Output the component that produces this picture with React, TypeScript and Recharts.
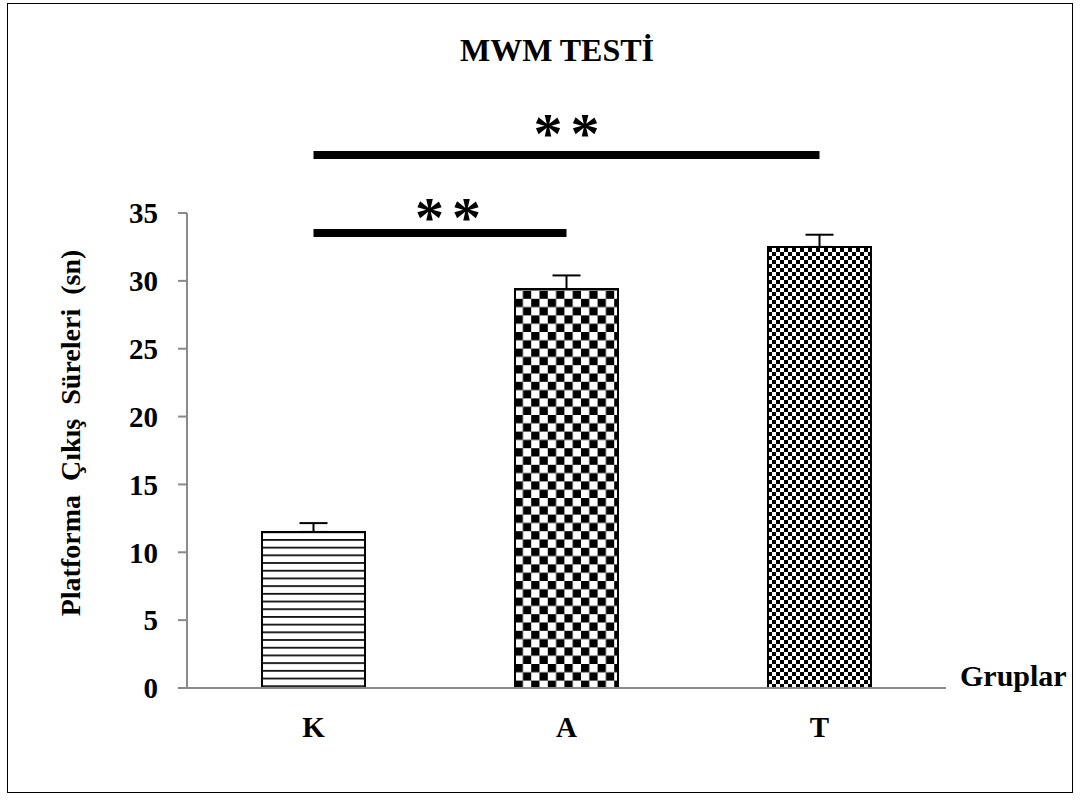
import React from "react";
import {
  BarChart,
  Bar,
  XAxis,
  YAxis,
  ErrorBar,
  ReferenceLine,
  Cell,
} from "recharts";

const groups = ["K", "A", "T"];
const means = [11.5, 29.4, 32.5];
const errors = [0.65, 1.0, 0.9];
const yTicks = [0, 5, 10, 15, 20, 25, 30, 35];
const fills = ["url(#hlines)", "url(#bigcheck)", "url(#smallcheck)"];
const sigLines = [
  { from: "K", to: "T", y: 39.27, text: "**", shift: 4, dy: 0 },
  { from: "K", to: "A", y: 33.53, text: "**", shift: 12, dy: 6 },
];

const serif = "'Liberation Serif', 'Times New Roman', serif";

const data = groups.map((g, i) => ({
  group: g,
  mean: means[i],
  err: [0, errors[i]],
}));

function Stars({ viewBox, text, shift, dy }: any) {
  if (!viewBox) return null;
  const cx = viewBox.x + (viewBox.width || 0) / 2 + shift;
  return (
    <text
      x={cx}
      y={viewBox.y - 2 + dy}
      textAnchor="middle"
      fontFamily={serif}
      fontWeight="bold"
      fontSize={58}
      letterSpacing={8}
      fill="#000"
    >
      {text}
    </text>
  );
}

function YLabel({ viewBox }: any) {
  if (!viewBox) return null;
  const cy = 433;
  return (
    <text
      x={70}
      y={cy}
      transform={`rotate(-90, 70, ${cy})`}
      textAnchor="middle"
      dominantBaseline="central"
      fontFamily={serif}
      fontWeight="bold"
      fontSize={28}
      fill="#000"
      style={{ whiteSpace: "pre" }}
    >
      Platforma  Çıkış  Süreleri  (sn)
    </text>
  );
}

export default function App() {
  return (
    <div style={{ position: "absolute", left: 0, top: 0, width: 1081, height: 800, background: "#fff" }}>
      <div
        style={{
          position: "absolute",
          left: 7,
          top: 3,
          width: 1066,
          height: 790,
          border: "1.5px solid #000",
          boxSizing: "border-box",
        }}
      />
      <div
        style={{
          position: "absolute",
          left: 457,
          width: 200,
          top: 33,
          textAlign: "center",
          fontFamily: serif,
          fontWeight: "bold",
          fontSize: 32,
          lineHeight: "34px",
          whiteSpace: "nowrap",
        }}
      >
        MWM TESTİ
      </div>
      <div
        style={{
          position: "absolute",
          left: 960,
          top: 659,
          fontFamily: serif,
          fontWeight: "bold",
          fontSize: 30,
          lineHeight: "34px",
        }}
      >
        Gruplar
      </div>
      <div style={{ position: "absolute", left: 0, top: 0 }}>
        <BarChart
          width={1081}
          height={800}
          data={data}
          margin={{ top: 213, right: 135, left: 127, bottom: 62 }}
          barCategoryGap={75}
        >
          <defs>
            <pattern id="hlines" width="8" height="7.7" patternUnits="userSpaceOnUse">
              <rect width="8" height="7.7" fill="#fff" />
              <rect y="0" width="8" height="1.8" fill="#111" />
            </pattern>
            <pattern id="bigcheck" width="16.6" height="16.6" patternUnits="userSpaceOnUse">
              <rect width="16.6" height="16.6" fill="#fff" />
              <rect width="8.3" height="8.3" fill="#000" />
              <rect x="8.3" y="8.3" width="8.3" height="8.3" fill="#000" />
            </pattern>
            <pattern id="smallcheck" width="8" height="8" patternUnits="userSpaceOnUse">
              <rect width="8" height="8" fill="#fff" />
              <rect width="4" height="4" fill="#000" />
              <rect x="4" y="4" width="4" height="4" fill="#000" />
            </pattern>
          </defs>
          <XAxis
            dataKey="group"
            height={50}
            axisLine={{ stroke: "#8a8a8a", strokeWidth: 2 }}
            tickLine={false}
            tickMargin={22}
            tick={{ fill: "#000", fontFamily: serif, fontWeight: "bold", fontSize: 29 }}
          />
          <YAxis
            width={60}
            domain={[0, 35]}
            ticks={yTicks}
            interval={0}
            tickSize={9}
            tickMargin={20}
            axisLine={{ stroke: "#8a8a8a", strokeWidth: 2 }}
            tickLine={{ stroke: "#8a8a8a", strokeWidth: 2 }}
            tick={{ fill: "#000", fontFamily: serif, fontWeight: "bold", fontSize: 29 }}
            label={<YLabel />}
          />
          <Bar dataKey="mean" stroke="#000" strokeWidth={2} isAnimationActive={false}>
            {data.map((d, i) => (
              <Cell key={d.group} fill={fills[i]} />
            ))}
            <ErrorBar dataKey="err" width={14} stroke="#000" strokeWidth={2} direction="y" />
          </Bar>
          {sigLines.map((s) => (
            <ReferenceLine
              key={s.from + s.to}
              segment={[
                { x: s.from, y: s.y },
                { x: s.to, y: s.y },
              ]}
              stroke="#000"
              strokeWidth={8}
              ifOverflow="visible"
              label={<Stars text={s.text} shift={s.shift} dy={s.dy} />}
            />
          ))}
        </BarChart>
      </div>
    </div>
  );
}
